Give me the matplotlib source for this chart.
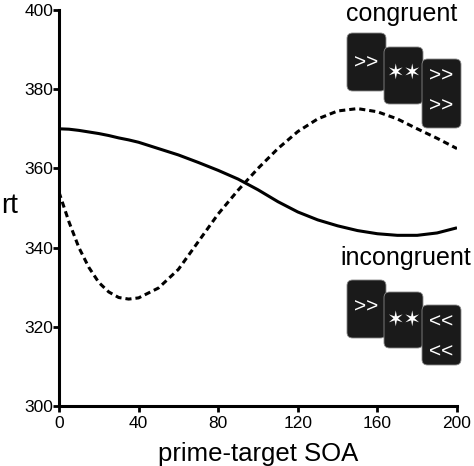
import numpy as np
import matplotlib.pyplot as plt
from matplotlib.patches import FancyBboxPatch

plt.rcParams['font.family'] = ['Liberation Sans', 'DejaVu Sans']

soa = [0, 5, 10, 15, 20, 25, 30, 35, 40, 50, 60, 70, 80, 90, 100, 110, 120,
       130, 140, 150, 160, 170, 180, 190, 200]
congruent_rt = [370, 369.9, 369.6, 369.2, 368.8, 368.3, 367.7, 367.2, 366.6, 365.0,
                363.4, 361.5, 359.5, 357.3, 354.6, 351.6, 349.0, 347.0, 345.5,
                344.3, 343.5, 343.1, 343.1, 343.7, 345.0]
incongruent_rt = [354, 346.5, 340, 335, 331.2, 328.8, 327.4, 327, 327.3, 329.8,
                  334.5, 341.5, 348.5, 354.5, 360, 365, 369.3, 372.5, 374.5,
                  375.1, 374.3, 372.5, 370, 367.6, 365]

W, H = 474, 466
fig = plt.figure(figsize=(W / 100, H / 100), dpi=100)
ax = fig.add_axes([59 / W, 1 - 406 / H, 398 / W, 396 / H])

ax.plot(soa, congruent_rt, color='black', lw=2.2, solid_capstyle='butt')
ax.plot(soa, incongruent_rt, color='black', lw=2.2, dashes=(2, 1.3))

ax.set_xlim(0, 200)
ax.set_ylim(300, 400)
ax.set_xticks([0, 40, 80, 120, 160, 200])
ax.set_yticks([300, 320, 340, 360, 380, 400])
for s in ['top', 'right']:
    ax.spines[s].set_visible(False)
for s in ['left', 'bottom']:
    ax.spines[s].set_linewidth(2.2)
ax.tick_params(width=2, length=4, labelsize=12.5, colors='black')
ax.tick_params(axis='x', pad=3)
ax.tick_params(axis='y', pad=0)
ax.set_xlabel('prime-target SOA', fontsize=18.5, labelpad=8)
fig.text(18 / W, 1 - 206 / H, 'rt', fontsize=20, ha='right', va='center')


def px(x, y):
    return x / W, 1 - y / H


def card(x0, y0, x1, y1, lines):
    fx, fy = px(x0, y1)
    fw, fh = (x1 - x0) / W, (y1 - y0) / H
    fig.patches.append(FancyBboxPatch((fx, fy), fw, fh,
                                      boxstyle='round,pad=0,rounding_size=0.012',
                                      transform=fig.transFigure,
                                      facecolor='#1a1a1a', edgecolor='#888888',
                                      lw=0.6))
    for ty, txt in lines:
        tx, tyy = px((x0 + x1) / 2, ty)
        fig.text(tx, tyy, txt, color='white', fontsize=15, ha='center',
                 va='center')


fig.text(*px(402, 14), 'congruent', fontsize=18, ha='center', va='center')
card(347, 33, 386, 91, [(63, '>>')])
card(384, 47, 423, 104, [(73, '✶✶')])
card(422, 59, 461, 128, [(76, '>>'), (106, '>>')])

fig.text(*px(406, 258), 'incongruent', fontsize=18, ha='center', va='center')
card(347, 280, 386, 338, [(307, '>>')])
card(384, 292, 423, 348, [(320, '✶✶')])
card(422, 305, 461, 365, [(322, '<<'), (352, '<<')])

fig.savefig('out.png', dpi=100)
